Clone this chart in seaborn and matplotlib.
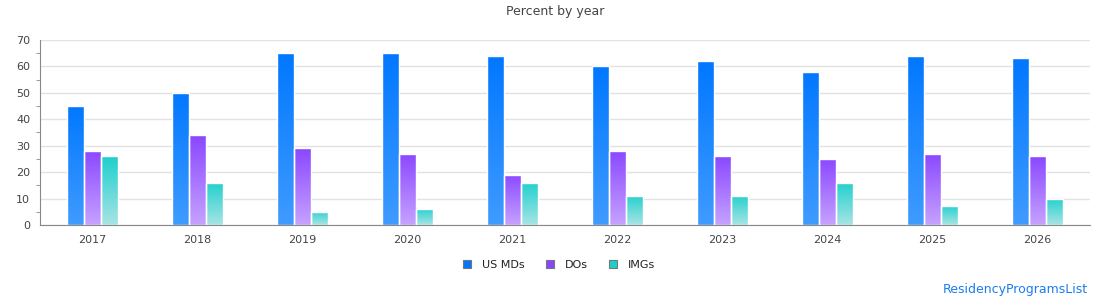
import numpy as np
import pandas as pd
import matplotlib
matplotlib.use('Agg')
import matplotlib.pyplot as plt
import seaborn as sns
from matplotlib.colors import LinearSegmentedColormap
from matplotlib.lines import Line2D
from matplotlib.ticker import MultipleLocator

years = ['2017', '2018', '2019', '2020', '2021', '2022', '2023', '2024', '2025', '2026']
us_mds = [45, 50, 65, 65, 64, 60, 62, 58, 64, 63]
dos = [28, 34, 29, 27, 19, 28, 26, 25, 27, 26]
imgs = [26, 16, 5, 6, 16, 11, 11, 16, 7, 10]
groups = ['US MDs', 'DOs', 'IMGs']

# 渐变色：顶部深，底部浅
top_colors = {'US MDs': '#0077ff', 'DOs': '#8844ff', 'IMGs': '#17cfcc'}
bottom_colors = {'US MDs': '#3f9bff', 'DOs': '#c6a2ff', 'IMGs': '#a8e4e4'}

df = pd.DataFrame({
    'year': years * 3,
    'group': [g for g in groups for _ in years],
    'value': us_mds + dos + imgs,
})

sns.set_style('white')
plt.rcParams['font.family'] = ['DejaVu Sans']

fig = plt.figure(figsize=(11.1, 3.0), dpi=100)
ax = fig.add_axes([0.036, 0.25, 0.946, 0.617])

sns.barplot(data=df, x='year', y='value', hue='group', hue_order=groups,
            palette=top_colors, width=0.48, ax=ax, legend=False,
            edgecolor='white', linewidth=1, zorder=3)

# 给每个柱子加渐变，用柱子本身做裁剪
for container, g in zip(ax.containers, groups):
    cmap = LinearSegmentedColormap.from_list(g, [bottom_colors[g], top_colors[g]])
    grad = np.linspace(0, 1, 256).reshape(-1, 1)
    for bar in container:
        x0, w, h = bar.get_x(), bar.get_width(), bar.get_height()
        im = ax.imshow(grad, extent=[x0 - 0.05, x0 + w + 0.05, 0, h + 1],
                       origin='lower', aspect='auto', cmap=cmap,
                       interpolation='bilinear', zorder=3.5)
        im.set_clip_path(bar)
        bar.set_facecolor('none')
        bar.set_zorder(4)

ax.set_xlim(-0.5, 9.5)
ax.set_ylim(0, 70)
ax.yaxis.set_major_locator(MultipleLocator(10))
ax.yaxis.set_minor_locator(MultipleLocator(5))
ax.grid(axis='y', color='#e2e2e2', linewidth=1, zorder=0)
ax.set_axisbelow(True)
for s in ['top', 'right']:
    ax.spines[s].set_visible(False)
for s in ['left', 'bottom']:
    ax.spines[s].set_color('#888888')
    ax.spines[s].set_zorder(5)
ax.tick_params(axis='y', which='major', length=5, color='#888888', labelsize=8, labelcolor='#444444', pad=2)
ax.tick_params(axis='y', which='minor', length=3, color='#888888', left=True)
ax.tick_params(axis='x', length=0, labelsize=8, labelcolor='#444444', pad=7)
ax.set_xlabel('')
ax.set_ylabel('')

fig.text(0.5, 0.96, 'Percent by year', ha='center', va='center', fontsize=9, color='#444444')

handles = [Line2D([], [], marker='s', linestyle='', markersize=6,
                  markerfacecolor=top_colors[g], markeredgecolor='#777777',
                  markeredgewidth=0.8, label=g) for g in groups]
fig.legend(handles=handles, loc='center', bbox_to_anchor=(0.503, 0.117), ncol=3,
           frameon=False, fontsize=8, handlelength=1.0, handletextpad=0.9,
           columnspacing=1.7, labelcolor='#222222')

fig.text(0.98, 0.035, 'ResidencyProgramsList', ha='right', va='center',
         fontsize=9, color='#1a7cf0')

fig.savefig('out.png', dpi=100)
